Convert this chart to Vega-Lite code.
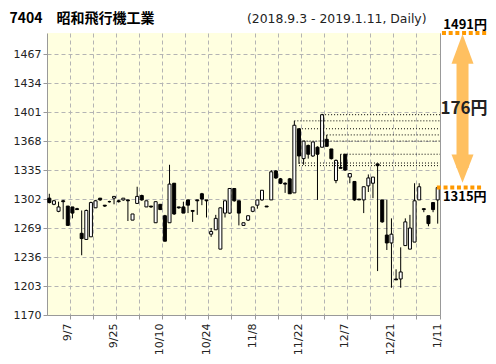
{
  "$schema": "https://vega.github.io/schema/vega-lite/v6.json",
  "width": 393,
  "height": 282,
  "autosize": {"type": "none"},
  "padding": {"left": 47, "top": 33, "right": 56, "bottom": 49},
  "background": "#ffffff",
  "config": {
    "view": {"stroke": null, "fill": "#FFFFE0"},
    "axis": {"labelFont": "DejaVu Sans", "labelFontSize": 11, "labelColor": "#222"}
  },
  "datasets": {
    "candles": [
      {"date": "9/3", "open": 1303, "high": 1308, "low": 1297, "close": 1298},
      {"date": "9/4", "open": 1296, "high": 1301, "low": 1295, "close": 1300},
      {"date": "9/5", "open": 1288, "high": 1299, "low": 1287, "close": 1293},
      {"date": "9/6", "open": 1300, "high": 1301, "low": 1279, "close": 1299},
      {"date": "9/7", "open": 1294, "high": 1294, "low": 1272, "close": 1272},
      {"date": "9/10", "open": 1293, "high": 1293, "low": 1280, "close": 1286},
      {"date": "9/11", "open": 1291, "high": 1292, "low": 1290, "close": 1290},
      {"date": "9/12", "open": 1263, "high": 1289, "low": 1238, "close": 1257},
      {"date": "9/13", "open": 1256, "high": 1290, "low": 1256, "close": 1289},
      {"date": "9/14", "open": 1259, "high": 1299, "low": 1259, "close": 1298},
      {"date": "9/18", "open": 1292, "high": 1301, "low": 1292, "close": 1300},
      {"date": "9/19", "open": 1303, "high": 1303, "low": 1300, "close": 1301},
      {"date": "9/20", "open": 1295, "high": 1295, "low": 1293, "close": 1294},
      {"date": "9/21", "open": 1299, "high": 1300, "low": 1298, "close": 1299},
      {"date": "9/25", "open": 1303, "high": 1305, "low": 1296, "close": 1305},
      {"date": "9/26", "open": 1300, "high": 1301, "low": 1298, "close": 1299},
      {"date": "9/27", "open": 1301, "high": 1303, "low": 1300, "close": 1303},
      {"date": "9/28", "open": 1301, "high": 1301, "low": 1277, "close": 1300},
      {"date": "10/1", "open": 1278, "high": 1285, "low": 1278, "close": 1285},
      {"date": "10/2", "open": 1297, "high": 1316, "low": 1297, "close": 1305},
      {"date": "10/3", "open": 1306, "high": 1307, "low": 1300, "close": 1301},
      {"date": "10/4", "open": 1293, "high": 1300, "low": 1293, "close": 1300},
      {"date": "10/5", "open": 1294, "high": 1294, "low": 1292, "close": 1293},
      {"date": "10/9", "open": 1275, "high": 1299, "low": 1275, "close": 1299},
      {"date": "10/10", "open": 1296, "high": 1296, "low": 1290, "close": 1290},
      {"date": "10/11", "open": 1283, "high": 1284, "low": 1254, "close": 1254},
      {"date": "10/12", "open": 1275, "high": 1341, "low": 1275, "close": 1319},
      {"date": "10/15", "open": 1320, "high": 1320, "low": 1284, "close": 1285},
      {"date": "10/16", "open": 1293, "high": 1293, "low": 1291, "close": 1292},
      {"date": "10/17", "open": 1293, "high": 1299, "low": 1286, "close": 1286},
      {"date": "10/18", "open": 1301, "high": 1301, "low": 1286, "close": 1295},
      {"date": "10/19", "open": 1289, "high": 1289, "low": 1276, "close": 1288},
      {"date": "10/22", "open": 1301, "high": 1301, "low": 1284, "close": 1300},
      {"date": "10/23", "open": 1308, "high": 1309, "low": 1295, "close": 1302},
      {"date": "10/24", "open": 1301, "high": 1301, "low": 1281, "close": 1300},
      {"date": "10/25", "open": 1262, "high": 1269, "low": 1259, "close": 1265},
      {"date": "10/26", "open": 1267, "high": 1284, "low": 1267, "close": 1280},
      {"date": "10/29", "open": 1245, "high": 1292, "low": 1245, "close": 1292},
      {"date": "10/30", "open": 1286, "high": 1300, "low": 1281, "close": 1300},
      {"date": "10/31", "open": 1286, "high": 1314, "low": 1285, "close": 1314},
      {"date": "11/1", "open": 1314, "high": 1314, "low": 1299, "close": 1300},
      {"date": "11/5", "open": 1300, "high": 1300, "low": 1272, "close": 1286},
      {"date": "11/6", "open": 1272, "high": 1275, "low": 1272, "close": 1275},
      {"date": "11/7", "open": 1278, "high": 1283, "low": 1277, "close": 1283},
      {"date": "11/8", "open": 1288, "high": 1293, "low": 1287, "close": 1293},
      {"date": "11/9", "open": 1295, "high": 1301, "low": 1291, "close": 1301},
      {"date": "11/12", "open": 1301, "high": 1312, "low": 1300, "close": 1312},
      {"date": "11/13", "open": 1294, "high": 1294, "low": 1293, "close": 1293},
      {"date": "11/14", "open": 1301, "high": 1335, "low": 1301, "close": 1333},
      {"date": "11/15", "open": 1334, "high": 1335, "low": 1325, "close": 1326},
      {"date": "11/16", "open": 1325, "high": 1326, "low": 1319, "close": 1320},
      {"date": "11/19", "open": 1320, "high": 1321, "low": 1309, "close": 1319},
      {"date": "11/20", "open": 1325, "high": 1326, "low": 1308, "close": 1308},
      {"date": "11/21", "open": 1309, "high": 1391, "low": 1309, "close": 1386},
      {"date": "11/22", "open": 1382, "high": 1382, "low": 1342, "close": 1351},
      {"date": "11/26", "open": 1348, "high": 1368, "low": 1341, "close": 1368},
      {"date": "11/27", "open": 1363, "high": 1364, "low": 1348, "close": 1353},
      {"date": "11/28", "open": 1351, "high": 1367, "low": 1350, "close": 1367},
      {"date": "11/29", "open": 1361, "high": 1362, "low": 1301, "close": 1353},
      {"date": "11/30", "open": 1361, "high": 1399, "low": 1361, "close": 1398},
      {"date": "12/3", "open": 1370, "high": 1375, "low": 1362, "close": 1362},
      {"date": "12/4", "open": 1359, "high": 1359, "low": 1347, "close": 1348},
      {"date": "12/5", "open": 1323, "high": 1347, "low": 1320, "close": 1346},
      {"date": "12/6", "open": 1338, "high": 1353, "low": 1337, "close": 1337},
      {"date": "12/7", "open": 1353, "high": 1353, "low": 1334, "close": 1335},
      {"date": "12/10", "open": 1327, "high": 1331, "low": 1320, "close": 1331},
      {"date": "12/11", "open": 1322, "high": 1322, "low": 1300, "close": 1301},
      {"date": "12/12", "open": 1302, "high": 1302, "low": 1301, "close": 1301},
      {"date": "12/13", "open": 1301, "high": 1316, "low": 1286, "close": 1316},
      {"date": "12/14", "open": 1317, "high": 1330, "low": 1310, "close": 1326},
      {"date": "12/17", "open": 1320, "high": 1327, "low": 1303, "close": 1327},
      {"date": "12/18", "open": 1342, "high": 1342, "low": 1220, "close": 1340},
      {"date": "12/19", "open": 1301, "high": 1301, "low": 1275, "close": 1276},
      {"date": "12/20", "open": 1261, "high": 1301, "low": 1244, "close": 1252},
      {"date": "12/21", "open": 1252, "high": 1280, "low": 1201, "close": 1262},
      {"date": "12/25", "open": 1211, "high": 1222, "low": 1210, "close": 1210},
      {"date": "12/26", "open": 1211, "high": 1247, "low": 1201, "close": 1219},
      {"date": "12/27", "open": 1249, "high": 1280, "low": 1249, "close": 1276},
      {"date": "12/28", "open": 1245, "high": 1284, "low": 1245, "close": 1269},
      {"date": "1/4", "open": 1253, "high": 1320, "low": 1253, "close": 1300},
      {"date": "1/7", "open": 1301, "high": 1320, "low": 1301, "close": 1316},
      {"date": "1/8", "open": 1291, "high": 1291, "low": 1287, "close": 1290},
      {"date": "1/9", "open": 1283, "high": 1283, "low": 1271, "close": 1274},
      {"date": "1/10", "open": 1298, "high": 1298, "low": 1287, "close": 1290},
      {"date": "1/11", "open": 1301, "high": 1315, "low": 1274, "close": 1315}
    ],
    "levels": [
      {"from": "11/30", "to": "1/11", "price": 1398},
      {"from": "11/21", "to": "1/11", "price": 1391},
      {"from": "11/22", "to": "1/11", "price": 1382},
      {"from": "12/3", "to": "1/11", "price": 1375},
      {"from": "11/26", "to": "1/11", "price": 1368},
      {"from": "12/6", "to": "1/11", "price": 1353},
      {"from": "11/22", "to": "1/11", "price": 1343},
      {"from": "11/22", "to": "1/11", "price": 1340}
    ],
    "range": [
      {"price": 1491, "label": "1491円"},
      {"price": 1315, "label": "1315円"}
    ]
  },
  "layer": [
    {
      "layer": [
        {
          "data": {"name": "candles"},
          "mark": {"type": "rule", "color": "#000", "strokeWidth": 1},
          "encoding": {
            "x": {
              "field": "date", "type": "ordinal", "sort": null,
              "scale": {"type": "band", "paddingInner": 0, "paddingOuter": 0,
                "domain": ["9/3","9/4","9/5","9/6","9/7","9/10","9/11","9/12","9/13","9/14","9/18","9/19","9/20","9/21","9/25","9/26","9/27","9/28","10/1","10/2","10/3","10/4","10/5","10/9","10/10","10/11","10/12","10/15","10/16","10/17","10/18","10/19","10/22","10/23","10/24","10/25","10/26","10/29","10/30","10/31","11/1","11/5","11/6","11/7","11/8","11/9","11/12","11/13","11/14","11/15","11/16","11/19","11/20","11/21","11/22","11/26","11/27","11/28","11/29","11/30","12/3","12/4","12/5","12/6","12/7","12/10","12/11","12/12","12/13","12/14","12/17","12/18","12/19","12/20","12/21","12/25","12/26","12/27","12/28","1/4","1/7","1/8","1/9","1/10","1/11"]},
              "axis": {
                "values": ["9/7","9/14","9/25","10/2","10/10","10/17","10/24","10/31","11/8","11/15","11/22","11/30","12/7","12/14","12/21","1/4","1/11"],
                "bandPosition": 1,
                "labelExpr": "indexof(['9/7','9/25','10/10','10/24','11/8','11/22','12/7','12/21','1/11'], datum.value) >= 0 ? datum.value : ''",
                "labelAngle": 270, "labelAlign": "right", "labelBaseline": "middle",
                "labelPadding": 4, "labelOverlap": false,
                "tickSize": 4, "tickColor": "#999", "domainColor": "#999",
                "grid": true, "gridColor": "#b4b4b4", "gridDash": [4, 3],
                "title": null
              }
            },
            "y": {
              "field": "low", "type": "quantitative",
              "scale": {"domain": [1170, 1491], "nice": false, "zero": false},
              "axis": {
                "values": [1170, 1203, 1236, 1269, 1302, 1335, 1368, 1401, 1434, 1467],
                "tickCount": 20,
                "format": "d", "labelOverlap": false, "labelFlush": false,
                "tickSize": 4, "tickColor": "#999", "domainColor": "#999", "labelPadding": 2,
                "grid": true, "gridColor": "#b4b4b4", "gridDash": [4, 3],
                "title": "7404　昭和飛行機工業", "titleAngle": 0, "titleX": -38, "titleY": -11,
                "titleAlign": "left", "titleBaseline": "alphabetic",
                "titleFont": "Noto Sans CJK JP", "titleFontSize": 14, "titleFontWeight": "bold", "titleColor": "#000"
              }
            },
            "y2": {"field": "high"}
          }
        },
        {
          "data": {"name": "candles"},
          "mark": {"type": "bar", "width": {"band": 0.65}, "stroke": "#000", "strokeWidth": 1},
          "encoding": {
            "x": {"field": "date", "type": "ordinal", "sort": null},
            "y": {"field": "open", "type": "quantitative"},
            "y2": {"field": "close"},
            "fill": {"condition": {"test": "datum.open > datum.close", "value": "#000"}, "value": "#fff"}
          }
        },
        {
          "data": {"name": "levels"},
          "mark": {"type": "rule", "color": "#000", "strokeWidth": 1, "strokeDash": [1, 2]},
          "encoding": {
            "x": {"field": "from", "type": "ordinal", "sort": null},
            "x2": {"field": "to", "bandPosition": 1},
            "y": {"field": "price", "type": "quantitative"}
          }
        }
      ]
    },
    {
      "data": {"name": "range"},
      "layer": [
        {
          "transform": [{"filter": "datum.price > 1400"}],
          "mark": {"type": "rule", "color": "#FF9900", "strokeWidth": 4, "strokeDash": [4, 2.7]},
          "encoding": {
            "x": {"datum": 1.005, "type": "quantitative",
              "scale": {"domain": [0, 1], "nice": false, "zero": false},
              "axis": {"orient": "top", "labels": false, "ticks": false, "domain": false, "grid": false,
                "title": "(2018.9.3 - 2019.1.11, Daily)", "titleX": 379, "titleY": -11,
                "titleAlign": "right", "titleBaseline": "alphabetic", "titleFont": "DejaVu Sans",
                "titleFontSize": 12.4, "titleFontWeight": "normal", "titleColor": "#222"}},
            "x2": {"datum": 1.12},
            "y": {"field": "price", "type": "quantitative",
              "axis": {"orient": "right", "labels": false, "ticks": false, "grid": false, "domain": true, "domainColor": "#999", "title": null}}
          }
        },
        {
          "transform": [{"filter": "datum.price < 1400"}],
          "mark": {"type": "rule", "color": "#FF9900", "strokeWidth": 4, "strokeDash": [4, 2.7]},
          "encoding": {
            "x": {"datum": 0.992, "type": "quantitative"},
            "x2": {"datum": 1.107},
            "y": {"field": "price", "type": "quantitative"}
          }
        },
        {
          "mark": {"type": "rule", "color": "#FFC060", "strokeWidth": 12, "strokeCap": "butt", "strokeDash": [0, 18, 117, 300]},
          "encoding": {
            "x": {"datum": 1.0573, "type": "quantitative"},
            "y": {"aggregate": "max", "field": "price", "type": "quantitative"},
            "y2": {"aggregate": "min", "field": "price"}
          }
        },
        {
          "transform": [{"filter": "datum.price > 1400"}],
          "mark": {"type": "point", "shape": "M0,0.1L1,2.8L-1,2.8Z", "size": 484, "filled": true, "fill": "#FFC060", "strokeWidth": 0, "opacity": 1},
          "encoding": {
            "x": {"datum": 1.0573, "type": "quantitative"},
            "y": {"field": "price", "type": "quantitative"}
          }
        },
        {
          "transform": [{"filter": "datum.price < 1400"}],
          "mark": {"type": "point", "shape": "M0,-0.44L1,-3L-1,-3Z", "size": 484, "filled": true, "fill": "#FFC060", "strokeWidth": 0, "opacity": 1},
          "encoding": {
            "x": {"datum": 1.0573, "type": "quantitative"},
            "y": {"field": "price", "type": "quantitative"}
          }
        },
        {
          "transform": [{"filter": "datum.price > 1400"}],
          "mark": {"type": "text", "font": "Noto Sans CJK JP", "fontSize": 13, "fontWeight": "bold", "color": "#000", "dy": -8, "baseline": "middle", "align": "center"},
          "encoding": {
            "x": {"datum": 1.064, "type": "quantitative"},
            "y": {"field": "price", "type": "quantitative"},
            "text": {"field": "label"}
          }
        },
        {
          "transform": [{"filter": "datum.price < 1400"}],
          "mark": {"type": "text", "font": "Noto Sans CJK JP", "fontSize": 13, "fontWeight": "bold", "color": "#000", "dy": 9, "baseline": "middle", "align": "center"},
          "encoding": {
            "x": {"datum": 1.063, "type": "quantitative"},
            "y": {"field": "price", "type": "quantitative"},
            "text": {"field": "label"}
          }
        },
        {
          "mark": {"type": "text", "text": "176円", "font": "Noto Sans CJK JP", "fontSize": 17, "fontWeight": "bold", "color": "#222", "dy": -1, "baseline": "middle", "align": "center"},
          "encoding": {
            "x": {"datum": 1.061, "type": "quantitative"},
            "y": {"aggregate": "mean", "field": "price", "type": "quantitative"}
          }
        }
      ]
    }
  ],
  "resolve": {"scale": {"x": "independent"}, "axis": {"x": "independent", "y": "independent"}}
}
